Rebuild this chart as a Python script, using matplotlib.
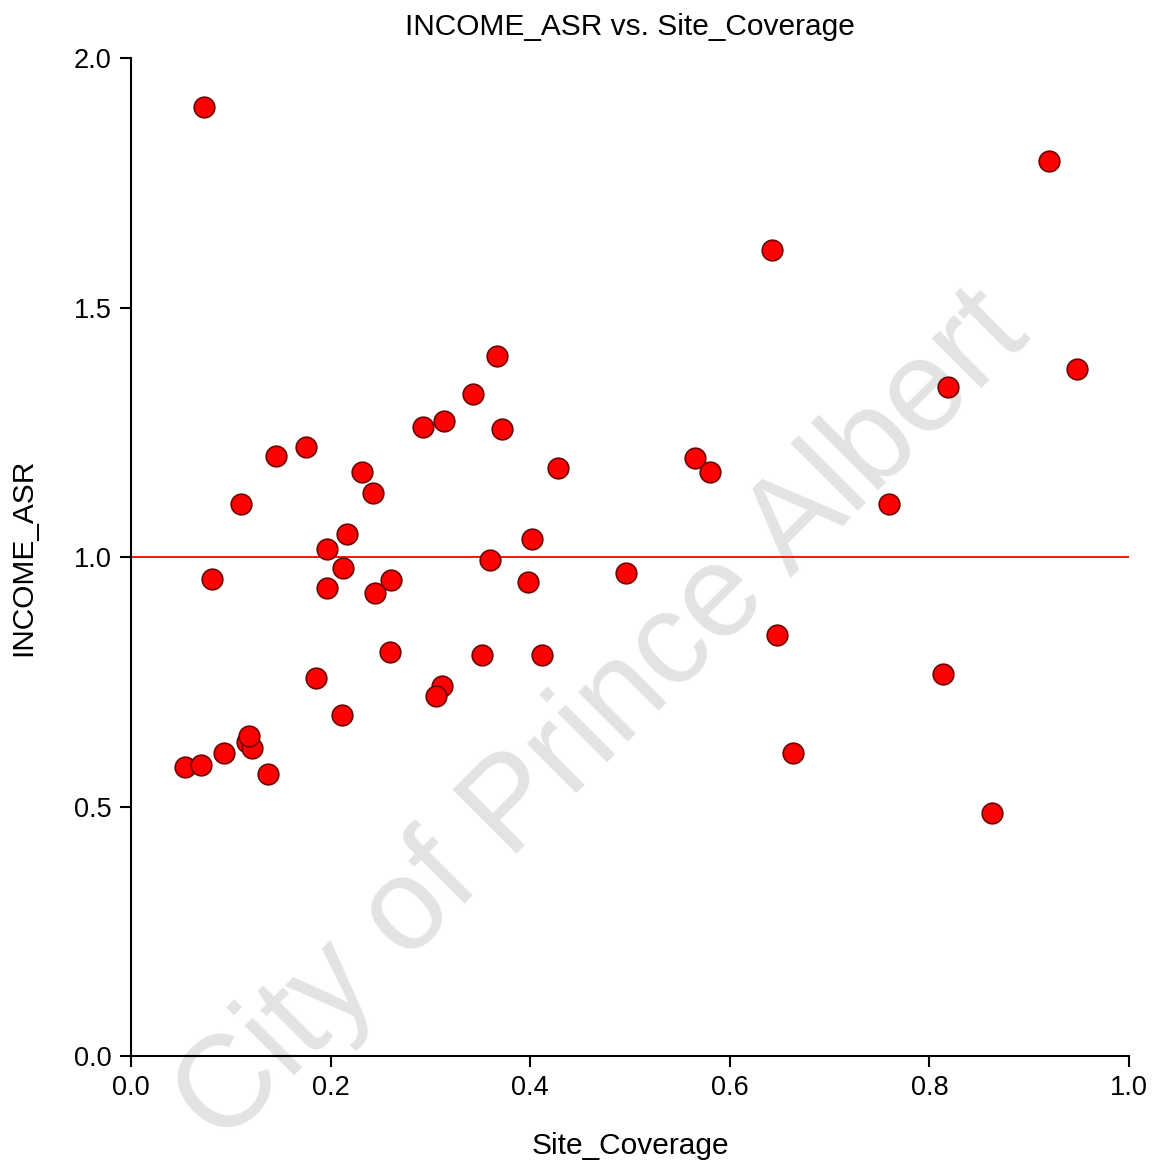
import numpy as np
import matplotlib
matplotlib.use("Agg")
import matplotlib.pyplot as plt

plt.rcParams['font.family'] = ['Liberation Sans', 'DejaVu Sans']

# site coverage vs income ASR
site_coverage = [0.073, 0.920, 0.642, 0.367, 0.948, 0.819, 0.343, 0.314, 0.293, 0.372,
                 0.175, 0.145, 0.565, 0.231, 0.580, 0.428, 0.243, 0.110, 0.760, 0.216,
                 0.402, 0.196, 0.212, 0.360, 0.496, 0.081, 0.261, 0.398, 0.196, 0.245,
                 0.647, 0.260, 0.352, 0.412, 0.185, 0.814, 0.312, 0.306, 0.211, 0.116,
                 0.121, 0.118, 0.093, 0.663, 0.054, 0.070, 0.137, 0.863]
income_asr = [1.902, 1.794, 1.615, 1.403, 1.377, 1.341, 1.327, 1.273, 1.261, 1.257,
              1.220, 1.202, 1.198, 1.170, 1.170, 1.178, 1.128, 1.106, 1.106, 1.046,
              1.036, 1.016, 0.978, 0.994, 0.968, 0.956, 0.954, 0.950, 0.938, 0.928,
              0.844, 0.810, 0.804, 0.804, 0.758, 0.766, 0.741, 0.721, 0.683, 0.629,
              0.617, 0.641, 0.607, 0.607, 0.579, 0.583, 0.565, 0.487]

fig = plt.figure(figsize=(11.56, 11.63), dpi=100)
ax = fig.add_axes([0.1133, 0.092, 0.8633, 0.858])

ax.axhline(1.0, color='red', lw=1.3, zorder=1)
ax.scatter(site_coverage, income_asr, s=220, c='#ff0000', edgecolors='#700000',
           linewidths=1.2, zorder=3)

ax.set_xlim(0, 1.0)
ax.set_ylim(0, 2.0)
ax.set_xticks(np.arange(0, 1.01, 0.2))
ax.set_yticks(np.arange(0, 2.01, 0.5))
ax.xaxis.set_major_formatter(matplotlib.ticker.FormatStrFormatter('%.1f'))
ax.yaxis.set_major_formatter(matplotlib.ticker.FormatStrFormatter('%.1f'))
for s in ['top', 'right']:
    ax.spines[s].set_visible(False)
for s in ['left', 'bottom']:
    ax.spines[s].set_linewidth(1.5)
ax.tick_params(direction='out', length=8, width=1.5, labelsize=19.5, pad=6)

ax.set_title('INCOME_ASR vs. Site_Coverage', fontsize=21.5, pad=17)
ax.set_xlabel('Site_Coverage', fontsize=21.5, labelpad=22)
ax.set_ylabel('INCOME_ASR', fontsize=21.5, labelpad=26)

# watermark sits under the markers
ax.text(0.5216, 0.382, 'City of Prince Albert', fontsize=94, color='#e3e3e3',
        rotation=45, ha='center', va='center', zorder=0,
        transform=fig.transFigure, clip_on=False)

fig.savefig('out.png', dpi=100)
